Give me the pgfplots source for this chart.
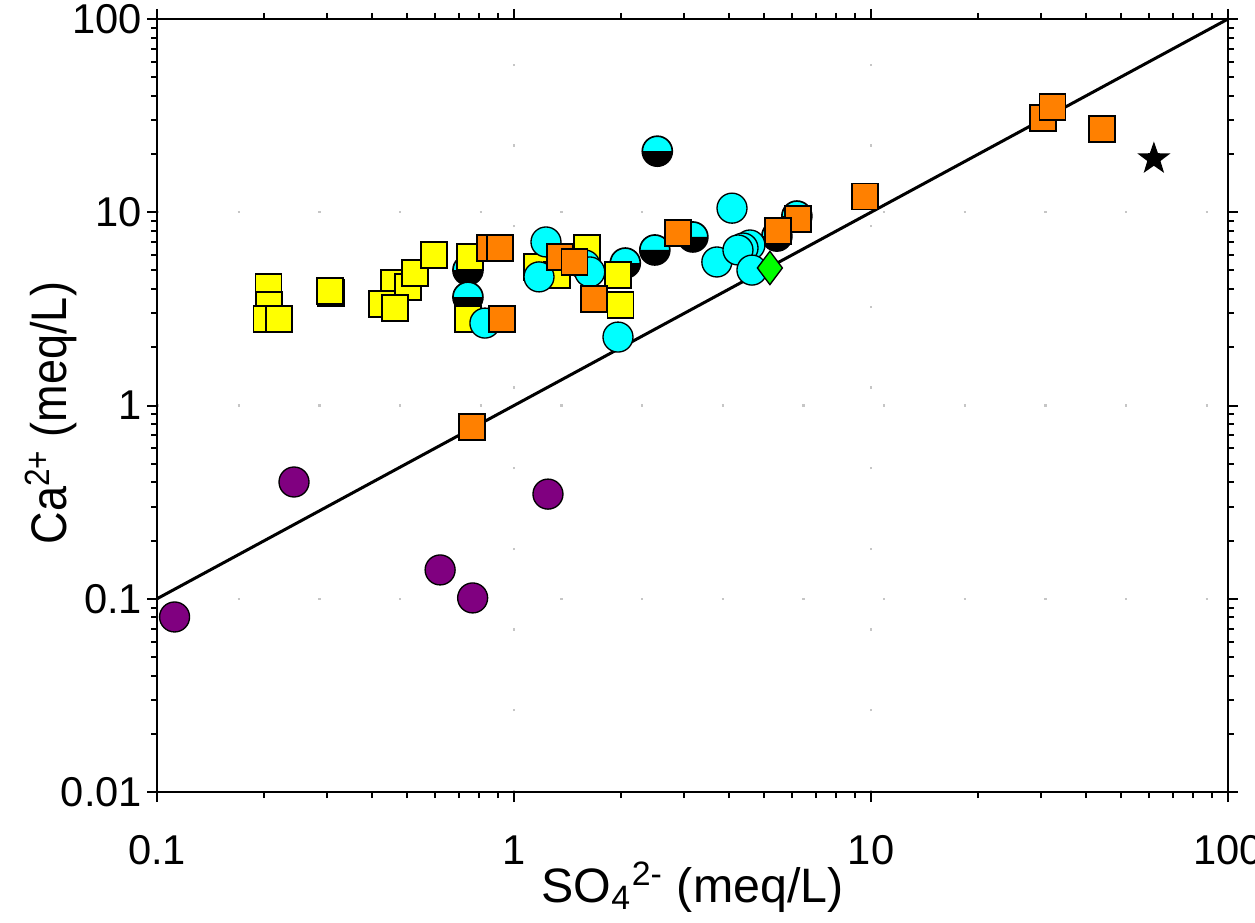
\documentclass[border=0pt]{standalone}
\usepackage{pgfplots}
\pgfplotsset{compat=1.18}
\usepackage{fontspec}
\setmainfont{Liberation Sans}

\definecolor{cOrange}{HTML}{FF8000}
\definecolor{cYellow}{HTML}{FFFF00}
\definecolor{cCyan}{HTML}{00FFFF}
\definecolor{cPurple}{HTML}{800080}
\definecolor{cGreen}{HTML}{00FF00}

% circle, upper half cyan, lower half black
\pgfdeclareplotmark{halfcirc}{%
  \pgfpathcircle{\pgfpointorigin}{\pgfplotmarksize}%
  \pgfsetfillcolor{cCyan}\pgfusepathqfill
  \pgfpathmoveto{\pgfqpoint{-\pgfplotmarksize}{0pt}}%
  \pgfpatharc{180}{360}{\pgfplotmarksize}%
  \pgfpathclose
  \pgfsetfillcolor{black}\pgfusepathqfill
  \pgfpathcircle{\pgfpointorigin}{\pgfplotmarksize}%
  \pgfusepathqstroke
}
% filled five-pointed star
\pgfdeclareplotmark{fstar}{%
  \pgfpathmoveto{\pgfpointpolar{90}{\pgfplotmarksize}}%
  \pgfpathlineto{\pgfpointpolar{126}{0.4\pgfplotmarksize}}%
  \pgfpathlineto{\pgfpointpolar{162}{\pgfplotmarksize}}%
  \pgfpathlineto{\pgfpointpolar{198}{0.4\pgfplotmarksize}}%
  \pgfpathlineto{\pgfpointpolar{234}{\pgfplotmarksize}}%
  \pgfpathlineto{\pgfpointpolar{270}{0.4\pgfplotmarksize}}%
  \pgfpathlineto{\pgfpointpolar{306}{\pgfplotmarksize}}%
  \pgfpathlineto{\pgfpointpolar{342}{0.4\pgfplotmarksize}}%
  \pgfpathlineto{\pgfpointpolar{18}{\pgfplotmarksize}}%
  \pgfpathlineto{\pgfpointpolar{54}{0.4\pgfplotmarksize}}%
  \pgfpathclose
  \pgfusepathqfill
}

\begin{document}
\begin{tikzpicture}
\begin{axis}[
  scale only axis,
  width=321.3pt,
  height=231.9pt,
  xmode=log, ymode=log,
  xmin=0.1, xmax=100,
  ymin=0.01, ymax=100,
  xtick={0.1,1,10,100},
  xticklabels={0.1,1,10,100},
  ytick={0.01,0.1,1,10,100},
  yticklabels={0.01,0.1,1,10,100},
  tick label style={font=\fontsize{12.5}{14}\selectfont},
  xticklabel style={yshift=-6.6pt},
  yticklabel style={xshift=2pt},
  tick align=outside,
  major tick length=3pt,
  minor tick length=1.8pt,
  tick style={black, line width=0.6pt},
  axis line style={black, line width=0.6pt},
  grid=major,
  major grid style={gray!45, line width=0.7pt, dash pattern=on 0.7pt off 23.5pt},
  xlabel={SO\textsubscript{4}\textsuperscript{2-} (meq/L)},
  ylabel={\scalebox{0.9}[1]{Ca\textsuperscript{2+} (meq/L)}},
  label style={font=\fontsize{14.5}{16}\selectfont},
  ylabel style={font=\fontsize{15}{17}\selectfont},
  xlabel style={at={(axis description cs:0.5,0)}, anchor=center, yshift=-28.5pt},
  ylabel style={at={(axis description cs:-0.099,0.49)}, anchor=center},
  every axis plot/.append style={only marks, mark options={line width=0.5pt, draw=black}},
  clip=false,
]
% 1:1 line
\addplot[black, line width=0.9pt, no marks, sharp plot] coordinates {(0.1,0.1) (100,100)};

% purple circles
\addplot[mark=*, mark size=4.5pt, mark options={fill=cPurple}] coordinates {
(0.112,0.0805) (0.242,0.402) (0.621,0.141) (0.766,0.101) (1.245,0.348)};

% half cyan / black circles
\addplot[mark=halfcirc, mark size=4.5pt] coordinates {
(2.52,20.7) (2.48,6.38) (3.17,7.45) (2.05,5.46) (0.743,5.02) (0.743,3.64)
(6.20,9.56) (5.45,7.53)};

% yellow squares
\addplot[mark=square*, mark size=3.9pt, mark options={fill=cYellow}] coordinates {
(0.205,4.10) (0.206,3.31) (0.203,2.80) (0.2196,2.80)
(0.307,3.82) (0.305,3.91)
(0.461,4.30) (0.505,4.10) (0.528,4.85) (0.597,6.01)
(0.427,3.35) (0.464,3.20)
(0.753,5.86) (0.743,2.80)
(1.60,6.53) (1.16,5.21) (1.32,4.73) (1.956,4.73) (1.99,3.31)};

% cyan circles
\addplot[mark=*, mark size=4.5pt, mark options={fill=cCyan}] coordinates {
(1.229,7.02) (1.175,4.63) (1.58,5.33) (1.63,4.91)
(0.829,2.67) (1.956,2.26)
(4.08,10.5) (3.70,5.53) (4.58,6.77) (4.38,6.53) (4.24,6.38) (4.64,5.02)};

% orange squares
\addplot[mark=square*, mark size=3.9pt, mark options={fill=cOrange}] coordinates {
(0.762,0.774) (30.3,30.7) (32.3,35.0) (44.4,27.0) (9.62,12.1)
(6.25,9.23) (5.49,8.0) (2.88,7.82) (1.675,3.56)
(1.346,5.86) (1.48,5.53) (0.857,6.53) (0.914,6.53) (0.925,2.80)};

% green diamond
\addplot[mark=diamond*, mark size=5pt, mark options={fill=cGreen}] coordinates {(5.21,5.15)};

% black star
\addplot[mark=fstar, mark size=5.2pt, mark options={fill=black}] coordinates {(62.0,18.9)};
\end{axis}
\pgfresetboundingbox
\path[use as bounding box] ([shift={(-47.1pt,-39pt)}]current axis.south west)
  rectangle ([shift={(8.1pt,5.7pt)}]current axis.north east);
\end{tikzpicture}
\end{document}
